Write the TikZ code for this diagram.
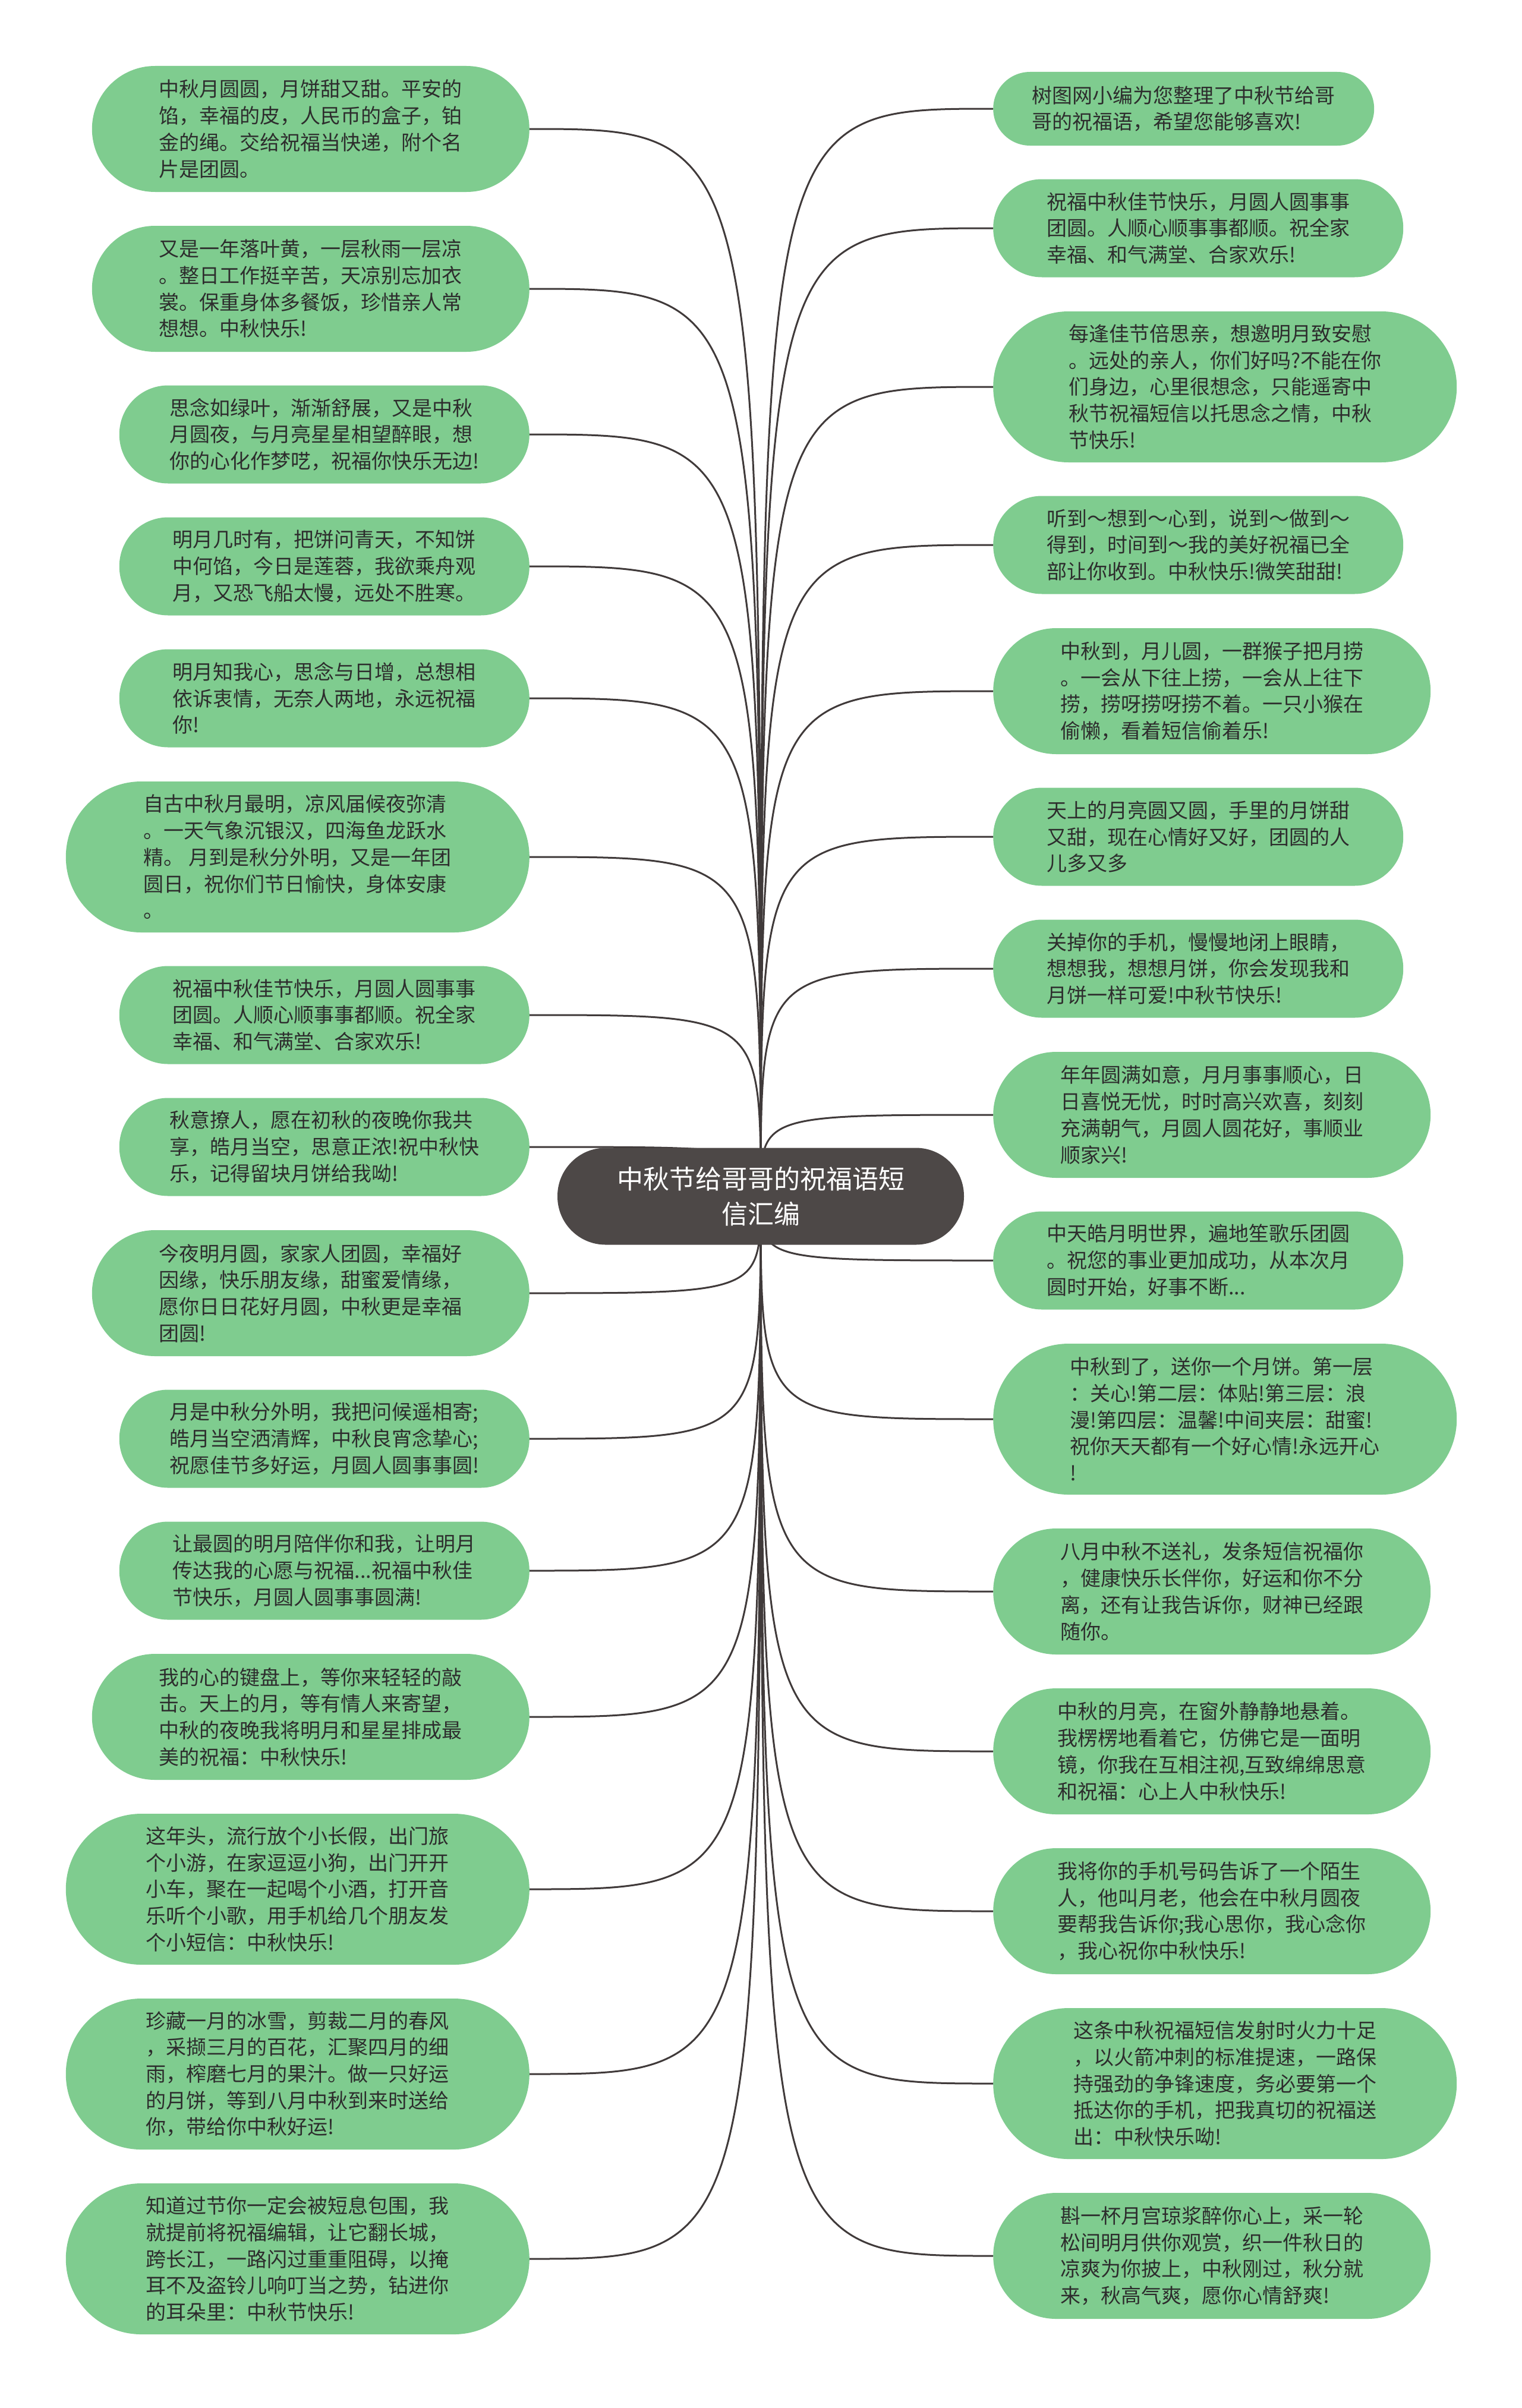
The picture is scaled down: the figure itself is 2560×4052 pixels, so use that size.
\documentclass[tikz,border=0pt]{standalone}
\usepackage{fontspec}
\setmainfont{Noto Sans CJK SC}
\definecolor{leafgreen}{RGB}{127,204,143}
\definecolor{leaftext}{RGB}{45,45,45}
\definecolor{rootfill}{RGB}{77,72,71}
\definecolor{linecol}{RGB}{64,58,58}
\pgfdeclarelayer{bg}
\pgfdeclarelayer{edges}
\pgfsetlayers{bg,edges,main}
\tikzset{
  leaf/.style={fill=leafgreen, text=leaftext, align=left, inner sep=0pt,
    font=\fontsize{34}{44.7}\selectfont},
  ntwo/.style={leaf, minimum width=641pt, minimum height=124pt, rounded corners=62pt},
  nthree/.style={leaf, minimum width=690pt, minimum height=165pt, rounded corners=82pt},
  nfour/.style={leaf, minimum width=736pt, minimum height=212pt, rounded corners=106pt},
  nfive/.style={leaf, minimum width=780pt, minimum height=254pt, rounded corners=127pt},
  rootbox/.style={fill=rootfill, text=white, align=center, inner sep=0pt,
    minimum width=684pt, minimum height=163pt, rounded corners=81pt,
    font=\fontsize{44}{59}\selectfont},
  conn/.style={draw=linecol, line width=3pt},
}
\begin{document}
\begin{tikzpicture}[x=1pt,y=-1pt]
\begin{pgfonlayer}{bg}
\fill[white] (0,0) rectangle (2560,4052);
\end{pgfonlayer}
\useasboundingbox (0,0) rectangle (2560,4052);

\node[rootbox] (C) at (1280,2013) {中秋节给哥哥的祝福语短\\信汇编};

% left column
\node[nfour, anchor=east] (L1) at (891,217) {中秋月圆圆，月饼甜又甜。平安的\\馅，幸福的皮，人民币的盒子，铂\\金的绳。交给祝福当快递，附个名\\片是团圆。};
\node[nfour, anchor=east] (L2) at (891,486) {又是一年落叶黄，一层秋雨一层凉\\。整日工作挺辛苦，天凉别忘加衣\\裳。保重身体多餐饭，珍惜亲人常\\想想。中秋快乐!};
\node[nthree, anchor=east] (L3) at (891,731) {思念如绿叶，渐渐舒展，又是中秋\\月圆夜，与月亮星星相望醉眼，想\\你的心化作梦呓，祝福你快乐无边!};
\node[nthree, anchor=east] (L4) at (891,953) {明月几时有，把饼问青天，不知饼\\中何馅，今日是莲蓉，我欲乘舟观\\月，又恐飞船太慢，远处不胜寒。};
\node[nthree, anchor=east] (L5) at (891,1175) {明月知我心，思念与日增，总想相\\依诉衷情，无奈人两地，永远祝福\\你!};
\node[nfive, anchor=east] (L6) at (891,1442) {自古中秋月最明，凉风届候夜弥清\\。一天气象沉银汉，四海鱼龙跃水\\精。 月到是秋分外明，又是一年团\\圆日，祝你们节日愉快，身体安康\\。};
\node[nthree, anchor=east] (L7) at (891,1708) {祝福中秋佳节快乐，月圆人圆事事\\团圆。人顺心顺事事都顺。祝全家\\幸福、和气满堂、合家欢乐!};
\node[nthree, anchor=east] (L8) at (891,1930) {秋意撩人，愿在初秋的夜晚你我共\\享，皓月当空，思意正浓!祝中秋快\\乐，记得留块月饼给我呦!};
\node[nfour, anchor=east] (L9) at (891,2176) {今夜明月圆，家家人团圆，幸福好\\因缘，快乐朋友缘，甜蜜爱情缘，\\愿你日日花好月圆，中秋更是幸福\\团圆!};
\node[nthree, anchor=east] (L10) at (891,2421) {月是中秋分外明，我把问候遥相寄;\\皓月当空洒清辉，中秋良宵念挚心;\\祝愿佳节多好运，月圆人圆事事圆!};
\node[nthree, anchor=east] (L11) at (891,2643) {让最圆的明月陪伴你和我，让明月\\传达我的心愿与祝福...祝福中秋佳\\节快乐，月圆人圆事事圆满!};
\node[nfour, anchor=east] (L12) at (891,2889) {我的心的键盘上，等你来轻轻的敲\\击。天上的月，等有情人来寄望，\\中秋的夜晚我将明月和星星排成最\\美的祝福：中秋快乐!};
\node[nfive, anchor=east] (L13) at (891,3179) {这年头，流行放个小长假，出门旅\\个小游，在家逗逗小狗，出门开开\\小车，聚在一起喝个小酒，打开音\\乐听个小歌，用手机给几个朋友发\\个小短信：中秋快乐!};
\node[nfive, anchor=east] (L14) at (891,3490) {珍藏一月的冰雪，剪裁二月的春风\\，采撷三月的百花，汇聚四月的细\\雨，榨磨七月的果汁。做一只好运\\的月饼，等到八月中秋到来时送给\\你，带给你中秋好运!};
\node[nfive, anchor=east] (L15) at (891,3801) {知道过节你一定会被短息包围，我\\就提前将祝福编辑，让它翻长城，\\跨长江，一路闪过重重阻碍，以掩\\耳不及盗铃儿响叮当之势，钻进你\\的耳朵里：中秋节快乐!};

% right column
\node[ntwo, anchor=west] (R1) at (1671,183) {树图网小编为您整理了中秋节给哥\\哥的祝福语，希望您能够喜欢!};
\node[nthree, anchor=west] (R2) at (1671,384) {祝福中秋佳节快乐，月圆人圆事事\\团圆。人顺心顺事事都顺。祝全家\\幸福、和气满堂、合家欢乐!};
\node[nfive, anchor=west] (R3) at (1671,651) {每逢佳节倍思亲，想邀明月致安慰\\。远处的亲人，你们好吗?不能在你\\们身边，心里很想念，只能遥寄中\\秋节祝福短信以托思念之情，中秋\\节快乐!};
\node[nthree, anchor=west] (R4) at (1671,917) {听到～想到～心到，说到～做到～\\得到，时间到～我的美好祝福已全\\部让你收到。中秋快乐!微笑甜甜!};
\node[nfour, anchor=west] (R5) at (1671,1163) {中秋到，月儿圆，一群猴子把月捞\\。一会从下往上捞，一会从上往下\\捞，捞呀捞呀捞不着。一只小猴在\\偷懒，看着短信偷着乐!};
\node[nthree, anchor=west] (R6) at (1671,1408) {天上的月亮圆又圆，手里的月饼甜\\又甜，现在心情好又好，团圆的人\\儿多又多};
\node[nthree, anchor=west] (R7) at (1671,1630) {关掉你的手机，慢慢地闭上眼睛，\\想想我，想想月饼，你会发现我和\\月饼一样可爱!中秋节快乐!};
\node[nfour, anchor=west] (R8) at (1671,1876) {年年圆满如意，月月事事顺心，日\\日喜悦无忧，时时高兴欢喜，刻刻\\充满朝气，月圆人圆花好，事顺业\\顺家兴!};
\node[nthree, anchor=west] (R9) at (1671,2121) {中天皓月明世界，遍地笙歌乐团圆\\。祝您的事业更加成功，从本次月\\圆时开始，好事不断...};
\node[nfive, anchor=west] (R10) at (1671,2388) {中秋到了，送你一个月饼。第一层\\：关心!第二层：体贴!第三层：浪\\漫!第四层：温馨!中间夹层：甜蜜!\\祝你天天都有一个好心情!永远开心\\!};
\node[nfour, anchor=west] (R11) at (1671,2678) {八月中秋不送礼，发条短信祝福你\\，健康快乐长伴你，好运和你不分\\离，还有让我告诉你，财神已经跟\\随你。};
\node[nfour, anchor=west] (R12) at (1671,2947) {中秋的月亮，在窗外静静地悬着。\\我楞楞地看着它，仿佛它是一面明\\镜，你我在互相注视,互致绵绵思意\\和祝福：心上人中秋快乐!};
\node[nfour, anchor=west] (R13) at (1671,3216) {我将你的手机号码告诉了一个陌生\\人，他叫月老，他会在中秋月圆夜\\要帮我告诉你;我心思你，我心念你\\，我心祝你中秋快乐!};
\node[nfive, anchor=west] (R14) at (1671,3506) {这条中秋祝福短信发射时火力十足\\，以火箭冲刺的标准提速，一路保\\持强劲的争锋速度，务必要第一个\\抵达你的手机，把我真切的祝福送\\出：中秋快乐呦!};
\node[nfour, anchor=west] (R15) at (1671,3796) {斟一杯月宫琼浆醉你心上，采一轮\\松间明月供你观赏，织一件秋日的\\凉爽为你披上，中秋刚过，秋分就\\来，秋高气爽，愿你心情舒爽!};

\begin{pgfonlayer}{edges}
\foreach \n in {L1,L2,L3,L4,L5,L6,L7,L8,L9,L10,L11,L12,L13,L14,L15}
  \draw[conn] (C.center) .. controls (C.center |- \n.east) .. (\n.east);
\foreach \n in {R1,R2,R3,R4,R5,R6,R7,R8,R9,R10,R11,R12,R13,R14,R15}
  \draw[conn] (C.center) .. controls (C.center |- \n.west) .. (\n.west);
\end{pgfonlayer}
\end{tikzpicture}
\end{document}
